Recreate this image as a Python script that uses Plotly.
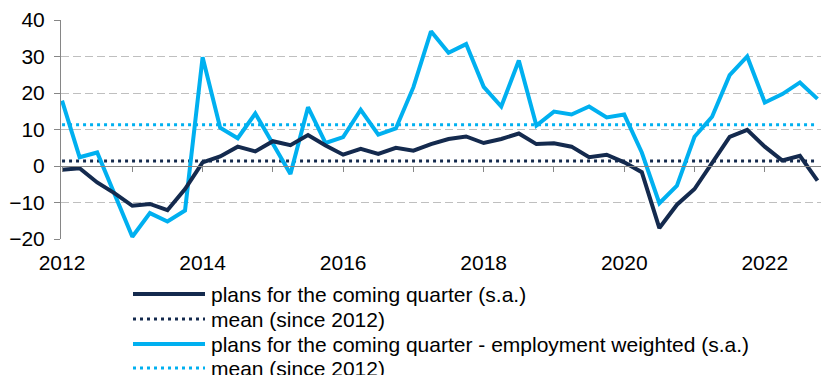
import plotly.graph_objects as go

# Quarterly survey balances, 2012 Q1 - 2022 Q4
years = [y for y in range(2012, 2023) for _ in range(4)]
quarters = [1, 2, 3, 4] * 11

plans = [-1.0, -0.6, -4.5, -7.5, -10.9, -10.4, -12.1, -6.3,
         1.0, 2.6, 5.3, 4.0, 6.8, 5.7, 8.5, 5.6,
         3.1, 4.7, 3.3, 5.0, 4.2, 6.0, 7.4, 8.1,
         6.3, 7.4, 8.9, 6.0, 6.2, 5.3, 2.4, 3.1,
         1.0, -1.7, -17.0, -10.6, -6.3, 1.0, 8.0, 9.9,
         5.3, 1.5, 2.8, -4.0]

plans_weighted = [17.9, 2.4, 3.7, -7.8, -19.4, -12.9, -15.2, -12.2,
                  29.8, 10.5, 7.6, 14.4, 6.0, -2.2, 16.1, 6.3,
                  7.9, 15.4, 8.6, 10.3, 21.6, 36.9, 31.0, 33.4,
                  21.7, 16.3, 28.9, 11.1, 14.9, 14.1, 16.3, 13.3,
                  14.1, 3.7, -10.2, -5.4, 8.0, 13.5, 24.9, 30.0,
                  17.4, 19.7, 22.9, 18.4]

mean_plans = 1.4
mean_weighted = 11.3

series_names = [
    "plans for the coming quarter (s.a.)",
    "mean (since 2012)",
    "plans for the coming quarter - employment weighted (s.a.)",
    "mean (since 2012)",
]
tick_years = [2012, 2014, 2016, 2018, 2020, 2022]

NAVY = "#142a4e"
SKY = "#00b0f0"
FONT = "Liberation Sans, Arial, sans-serif"
TEXT_SIZE = 21
SOLID = dict(width=4, dash="solid")
DOTTED = dict(width=3, dash="3px,4px")

# figure geometry (pixels)
W, H = 821, 375
M_L, M_R, M_T, M_B = 61, 0, 20, 136
PLOT_W = W - M_L - M_R
PLOT_H = H - M_T - M_B

x = [y + (q - 1) / 4 for y, q in zip(years, quarters)]
x_range = [2011.985, 2022.80]

styles = [(NAVY, SOLID), (NAVY, DOTTED), (SKY, SOLID), (SKY, DOTTED)]
values = [plans, [mean_plans] * len(x), plans_weighted, [mean_weighted] * len(x)]

fig = go.Figure()

# mean lines go on the base axis, survey series on the overlaying axis
# (the overlay sits at zero and carries the yearly tick marks)
for k in (1, 3, 2, 0):
    color, style = styles[k]
    fig.add_trace(go.Scatter(
        x=x, y=values[k], mode="lines", name=series_names[k],
        xaxis="x2" if style is SOLID else "x", showlegend=False,
        line=dict(color=color, **style),
    ))


def px_to_paper(px, py):
    return (px - M_L) / PLOT_W, 1 - (py - M_T) / PLOT_H


# key below the plot: sample line plus label for each series
row_y = [294, 319, 344, 368]
for k, (name, (color, style)) in enumerate(zip(series_names, styles)):
    x0, yk = px_to_paper(133, row_y[k])
    x1, _ = px_to_paper(205, row_y[k])
    xt, _ = px_to_paper(209, row_y[k])
    fig.add_shape(type="line", xref="paper", yref="paper",
                  x0=x0, x1=x1, y0=yk, y1=yk,
                  line=dict(color=color, **style))
    fig.add_annotation(text=name, xref="paper", yref="paper", x=xt, y=yk,
                       xanchor="left", yanchor="middle", showarrow=False,
                       font=dict(family=FONT, size=TEXT_SIZE, color="#000000"))

fig.update_layout(
    width=W, height=H,
    margin=dict(l=M_L, r=M_R, t=M_T, b=M_B, autoexpand=False),
    paper_bgcolor="white", plot_bgcolor="white",
    font=dict(family=FONT, size=TEXT_SIZE, color="#000000"),
    showlegend=False,
    xaxis=dict(
        range=x_range, tickvals=tick_years,
        ticktext=[str(t) for t in tick_years], tickangle=0,
        showgrid=False, zeroline=False, showline=False, ticks="",
        ticklabelstandoff=9,
        tickfont=dict(size=TEXT_SIZE, color="#000000"),
    ),
    xaxis2=dict(
        range=x_range, overlaying="x", anchor="free", position=1 / 3,
        matches="x", dtick=1, tick0=2012,
        showticklabels=False, showgrid=False, zeroline=False,
        showline=True, linecolor="#868686", linewidth=1,
        ticks="outside", ticklen=5, tickcolor="#868686", tickwidth=1,
    ),
    yaxis=dict(
        range=[-20, 40], dtick=10, tick0=0,
        showgrid=True, gridcolor="#bfbfbf", gridwidth=1.3,
        griddash="8px,4px", zeroline=False,
        showline=True, linecolor="#868686", linewidth=1,
        ticks="outside", ticklen=6, tickcolor="#868686",
        ticklabelstandoff=5,
        tickfont=dict(size=TEXT_SIZE, color="#000000"),
    ),
)

fig.write_html("out.html")
